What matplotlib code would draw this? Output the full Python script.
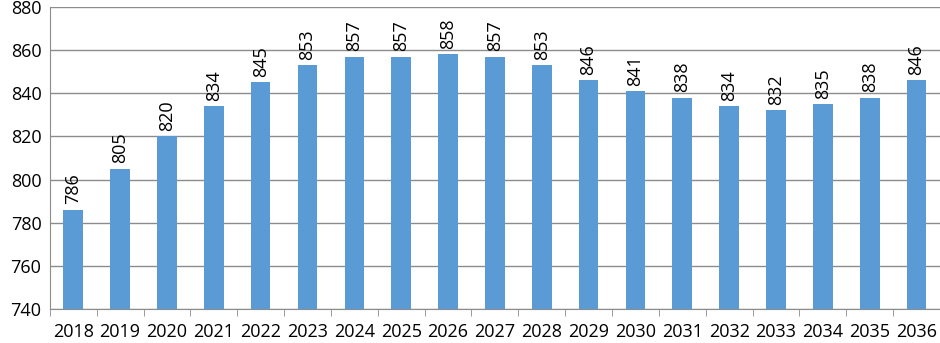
import numpy as np
import matplotlib
matplotlib.use("Agg")
import matplotlib.pyplot as plt

# Daten
years = ['2018', '2019', '2020', '2021', '2022', '2023', '2024', '2025', '2026', '2027',
         '2028', '2029', '2030', '2031', '2032', '2033', '2034', '2035', '2036']
values = [786, 805, 820, 834, 845, 853, 857, 857, 858, 857,
          853, 846, 841, 838, 834, 832, 835, 838, 846]
yticks = [740, 760, 780, 800, 820, 840, 860, 880]

plt.rcParams['font.family'] = ['Open Sans', 'DejaVu Sans']

fig = plt.figure(figsize=(9.4, 3.43), dpi=100)
ax = fig.add_axes([0.053, 0.099, 0.947, 0.881])

x = np.arange(len(years))
ax.bar(x, values, width=0.42, color='#5B9BD5', zorder=3)
for xi, v in zip(x, values):
    ax.text(xi, v + 2.5, str(v), rotation=90, ha='center', va='bottom', fontsize=13)

ax.set_ylim(740, 880)
ax.set_xlim(-0.5, len(years) - 0.5)
ax.set_yticks(yticks)
ax.yaxis.grid(True, color='#8c8c8c', linewidth=1, zorder=0)
ax.tick_params(axis='y', length=0, labelsize=13, pad=6)

ax.set_xticks(x)
ax.set_xticklabels(years, fontsize=13)
ax.tick_params(axis='x', length=0, pad=10)
ax.set_xticks(np.arange(-0.5, len(years)), minor=True)
ax.tick_params(axis='x', which='minor', length=5, color='#8c8c8c')

for s in ['top', 'right']:
    ax.spines[s].set_visible(False)
ax.spines['left'].set_color('#8c8c8c')
ax.spines['bottom'].set_color('#8c8c8c')

fig.savefig('out.png', dpi=100)
